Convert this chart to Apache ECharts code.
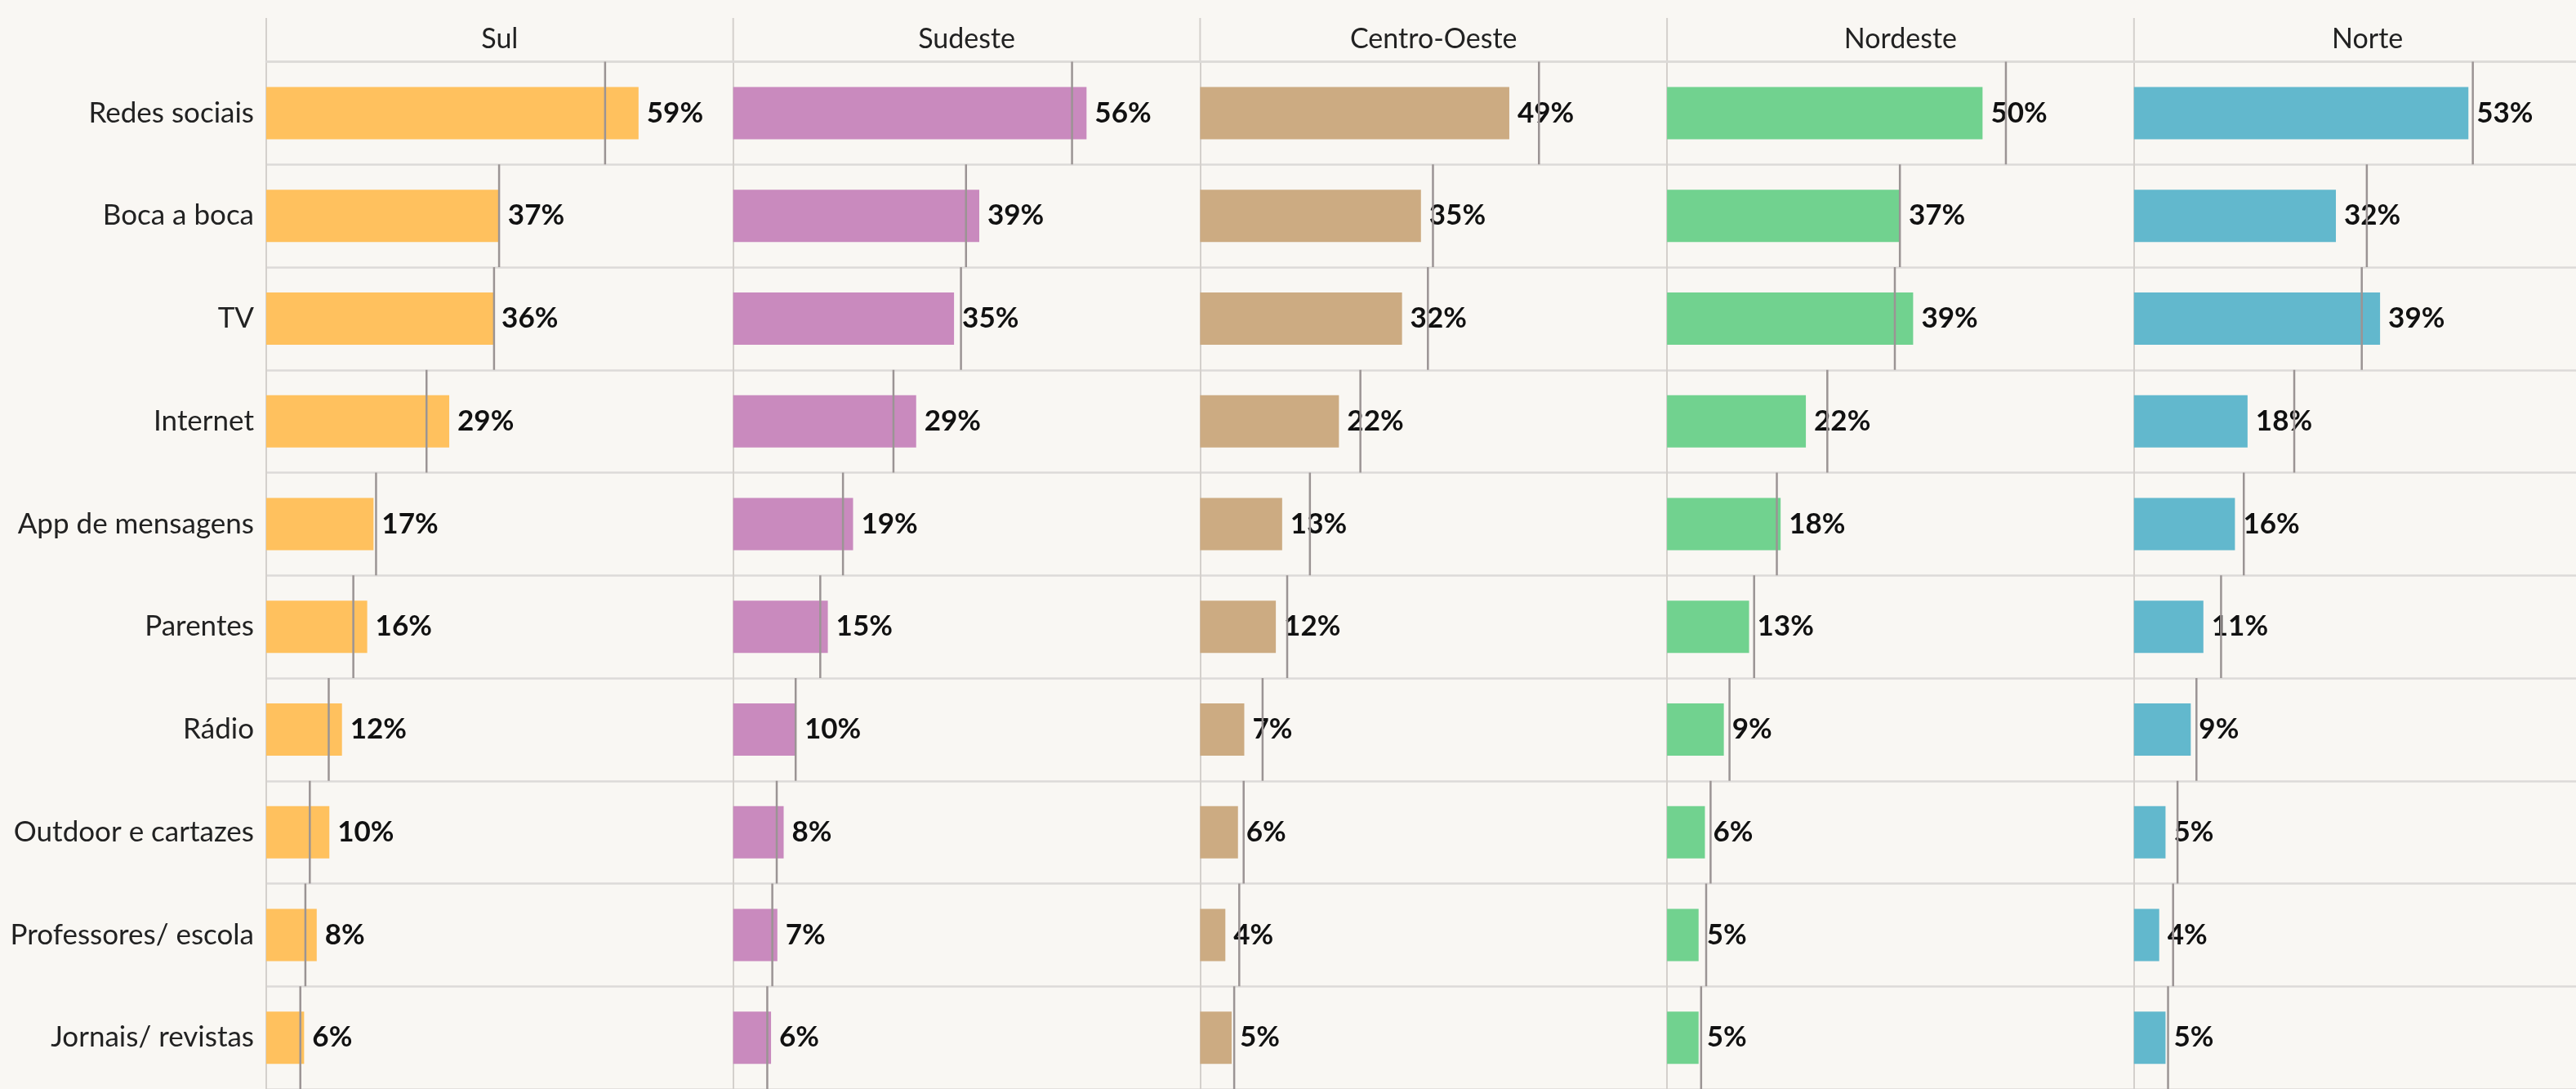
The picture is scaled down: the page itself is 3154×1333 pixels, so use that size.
<!DOCTYPE html>
<html>
<head>
<meta charset="utf-8">
<script src="https://cdn.jsdelivr.net/npm/echarts@6/dist/echarts.min.js"></script>
<style>
  html, body { margin: 0; padding: 0; background: #f9f7f3; }
  #chart { width: 3154px; height: 1333px; }
</style>
</head>
<body>
<div id="chart"></div>
<script>
// categorias (linhas)
var categorias = ['Redes sociais', 'Boca a boca', 'TV', 'Internet', 'App de mensagens',
  'Parentes', 'Rádio', 'Outdoor e cartazes', 'Professores/ escola', 'Jornais/ revistas'];
// regiões (colunas)
var regioes = ['Sul', 'Sudeste', 'Centro-Oeste', 'Nordeste', 'Norte'];
var cores = ['#ffc15e', '#c98abe', '#ccab82', '#71d28f', '#62b8cd'];

var sul         = [59, 37, 36, 29, 17, 16, 12, 10, 8, 6];
var sudeste     = [56, 39, 35, 29, 19, 15, 10, 8, 7, 6];
var centroOeste = [49, 35, 32, 22, 13, 12, 7, 6, 4, 5];
var nordeste    = [50, 37, 39, 22, 18, 13, 9, 6, 5, 5];
var norte       = [53, 32, 39, 18, 16, 11, 9, 5, 4, 5];
// média nacional (linha de referência)
var mediaBrasil = [53.7, 36.9, 36.1, 25.4, 17.4, 13.8, 9.9, 6.9, 6.2, 5.4];

var valores = [sul, sudeste, centroOeste, nordeste, norte];

// layout
var W = 3154, left0 = 326, panelW = 571.7, top0 = 75.5, rowH = 126.7, eixoMax = 74;
var fonte = 'Lato, "Liberation Sans", sans-serif';

var chart = echarts.init(document.getElementById('chart'));

var grids = [], xAxes = [], yAxes = [], series = [], graphics = [];
regioes.forEach(function (reg, i) {
  var left = left0 + i * panelW;
  // o último painel é cortado pela borda da imagem
  var w = Math.min(panelW, W - left);
  grids.push({ left: left, top: top0, width: w, height: rowH * categorias.length });
  xAxes.push({
    gridIndex: i, type: 'value', min: 0, max: eixoMax * w / panelW, position: 'top',
    name: i === regioes.length - 1 ? '' : reg, nameLocation: 'middle', nameGap: 10,
    nameTextStyle: { fontFamily: fonte, fontSize: 34, color: '#222' },
    axisLine: { show: true, lineStyle: { color: '#dcdad8', width: 2.5 } },
    axisTick: { show: false }, axisLabel: { show: false }, splitLine: { show: false }
  });
  yAxes.push({
    gridIndex: i, type: 'category', data: categorias, inverse: true,
    axisLine: { show: true, lineStyle: { color: '#d4d0cc', width: 2 } },
    axisTick: { show: false },
    axisLabel: { show: i === 0, fontFamily: fonte, fontSize: 35, color: '#222', margin: 15 },
    splitLine: { show: true, lineStyle: { color: '#dcdad8', width: 2.5 } }
  });
  series.push({
    type: 'bar', xAxisIndex: i, yAxisIndex: i, data: valores[i], barWidth: 64,
    itemStyle: { color: cores[i] },
    label: { show: true, position: 'right', distance: 10, formatter: '{c}%',
      fontFamily: fonte, fontSize: 35, fontWeight: 'bold', color: '#111' }
  });
  series.push({
    type: 'custom', xAxisIndex: i, yAxisIndex: i, z: 3,
    data: mediaBrasil.map(function (v, k) { return [v, k]; }),
    encode: { x: 0, y: 1 },
    renderItem: function (params, api) {
      var p = api.coord([api.value(0), api.value(1)]);
      var h = api.size([0, 1])[1];
      return {
        type: 'line',
        shape: { x1: p[0], y1: p[1] - h / 2, x2: p[0], y2: p[1] + h / 2 },
        style: { stroke: '#9b9494', lineWidth: 2.5 }
      };
    }
  });
  // divisória vertical no cabeçalho
  graphics.push({
    type: 'line', shape: { x1: left, y1: 22, x2: left, y2: top0 },
    style: { stroke: '#d4d0cc', lineWidth: 2 }
  });
});

// título do último painel centrado na largura total do painel (que sai da imagem)
graphics.push({
  type: 'text', x: left0 + 4.5 * panelW, y: top0 - 10,
  style: { text: regioes[4], font: '34px ' + fonte, fill: '#222', align: 'center', verticalAlign: 'bottom' }
});

chart.setOption({
  backgroundColor: '#f9f7f3',
  animation: false,
  grid: grids,
  xAxis: xAxes,
  yAxis: yAxes,
  series: series,
  graphic: graphics
});
</script>
</body>
</html>
